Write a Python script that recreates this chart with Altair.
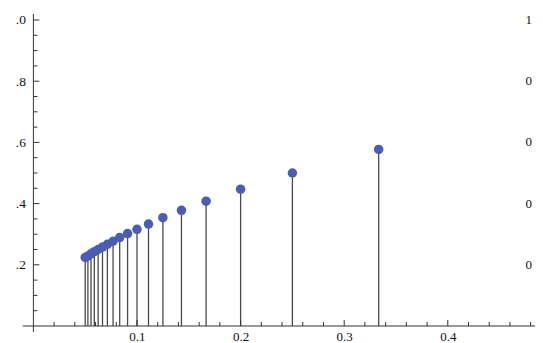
import altair as alt
import pandas as pd

# stem plot values
xs = [0.3333, 0.25, 0.2, 0.1667, 0.1429, 0.125, 0.1111, 0.1, 0.0909, 0.0833,
      0.0769, 0.0714, 0.0667, 0.0625, 0.0588, 0.0556, 0.0526, 0.05]
ys = [0.577, 0.5, 0.447, 0.408, 0.378, 0.354, 0.333, 0.316, 0.302, 0.289,
      0.277, 0.267, 0.258, 0.25, 0.243, 0.236, 0.229, 0.224]

x_major = [0.1, 0.2, 0.3, 0.4]
x_minor = [0.02, 0.04, 0.06, 0.08, 0.12, 0.14, 0.16, 0.18, 0.22, 0.24, 0.26, 0.28,
           0.32, 0.34, 0.36, 0.38, 0.42, 0.44, 0.46, 0.48]
y_major = [0.2, 0.4, 0.6, 0.8, 1.0]
y_minor = [0.05, 0.1, 0.15, 0.25, 0.3, 0.35, 0.45, 0.5, 0.55, 0.65, 0.7, 0.75,
           0.85, 0.9, 0.95]
right_labels = ["0", "0", "0", "0", "1"]

W, H = 501, 312
FONT = "Liberation Serif"
AX = "#333333"
TXT = "#111111"

df = pd.DataFrame({"x": xs, "y": ys})
xscale = alt.Scale(domain=[0, 0.4836], nice=False, zero=False)
yscale = alt.Scale(domain=[0, 1.0196], nice=False, zero=False)

xaxis = alt.Axis(values=x_major, format=".1f", ticks=False, domain=False,
                 grid=False, labelFont=FONT, labelFontSize=13, title=None,
                 labelColor=TXT, labelPadding=4)
yaxis = alt.Axis(values=y_major, ticks=False, domain=False, grid=False, title=None,
                 labelExpr="substring(format(datum.value, '.1f'), 1)",
                 labelFont=FONT, labelFontSize=13.5,
                 labelColor=TXT, labelPadding=8)


def X(f):
    return alt.X(f, scale=xscale, axis=xaxis, title=None)


def Y(f):
    return alt.Y(f, scale=yscale, axis=yaxis, title=None)


stems = alt.Chart(df).mark_rule(color="#4a4a4a", strokeWidth=1.3).encode(
    x=X("x:Q"), y=Y("y:Q"), y2=alt.datum(0),
)

points = alt.Chart(df).mark_circle(color="#4a5db3", opacity=1, size=90).encode(
    x=X("x:Q"), y=Y("y:Q"),
)

one = pd.DataFrame({"a": [0]})
xaxis_line = alt.Chart(one).mark_rule(color=AX, strokeWidth=1).encode(
    x=alt.value(-10.7), x2=alt.value(W + 1), y=alt.value(H))
yaxis_line = alt.Chart(one).mark_rule(color=AX, strokeWidth=1).encode(
    x=alt.value(0), y=alt.value(0), y2=alt.value(H + 6))

ytm = alt.Chart(pd.DataFrame({"t": y_major})).mark_rule(color=AX, strokeWidth=1).encode(
    y=Y("t:Q"), x=alt.value(0), x2=alt.value(6))
ytn = alt.Chart(pd.DataFrame({"t": y_minor})).mark_rule(color=AX, strokeWidth=1).encode(
    y=Y("t:Q"), x=alt.value(0), x2=alt.value(4))
xtm = alt.Chart(pd.DataFrame({"t": x_major})).mark_rule(color=AX, strokeWidth=1).encode(
    x=X("t:Q"), y=alt.value(H), y2=alt.value(H - 6))
xtn = alt.Chart(pd.DataFrame({"t": x_minor})).mark_rule(color=AX, strokeWidth=1).encode(
    x=X("t:Q"), y=alt.value(H), y2=alt.value(H - 4))

rl = alt.Chart(pd.DataFrame({"t": y_major, "lab": right_labels})).mark_text(
    align="left", baseline="middle", font=FONT, fontSize=13, color=TXT
).encode(y=Y("t:Q"), x=alt.value(W - 9), text="lab:N")

chart = alt.layer(stems, points, xaxis_line, yaxis_line, ytm, ytn, xtm, xtn, rl).properties(
    width=W, height=H,
    autosize=alt.AutoSizeParams(type="none"),
    padding={"left": 25.4, "top": 6, "right": 0.6, "bottom": 19},
    background="white",
).configure_view(stroke=None)

chart.save("out.html", embed_options={"renderer": "svg", "actions": False})
